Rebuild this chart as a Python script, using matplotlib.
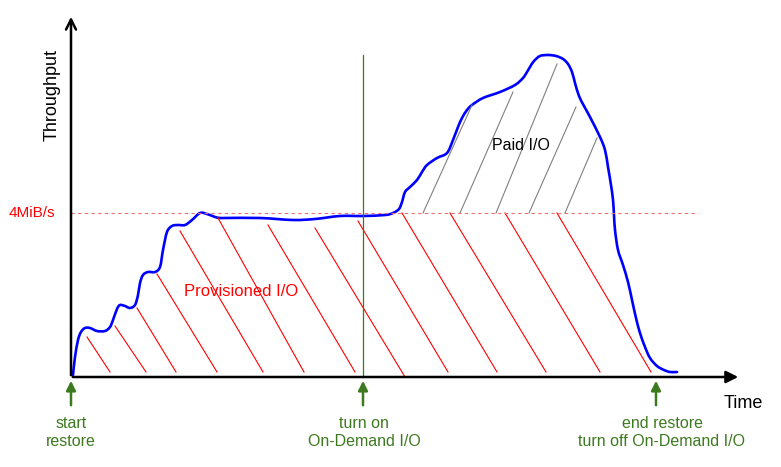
import matplotlib
matplotlib.use("Agg")
import matplotlib.pyplot as plt
from matplotlib.path import Path
from matplotlib.patches import PathPatch
import numpy as np

plt.rcParams['font.family'] = ['Liberation Sans', 'DejaVu Sans']

# throughput curve (time, throughput) in diagram units
time = [2, 4, 7, 10, 14, 19, 26, 34, 39, 42, 46, 49, 54, 59, 64, 67, 69, 72, 77, 84,
        89, 92, 96, 101, 107, 114, 121, 129, 136, 144, 149, 154, 189, 222,
        244, 269, 292, 314, 322, 328, 331, 334, 339, 346, 351, 356, 366, 376, 382, 387,
        391, 396, 401, 412, 429, 444, 452, 456, 459, 463, 469, 477, 485, 492, 497, 501,
        504, 508, 513, 519, 529, 534, 537, 540, 542, 543, 544, 547, 552, 557, 561, 565,
        569, 574, 579, 586, 593, 599, 606]
throughput = [2, 20, 37, 45, 49, 49, 46, 46, 50, 57, 68, 72, 71, 69, 72, 82, 94, 102, 105,
              105, 110, 127, 145, 151, 152, 152, 157, 164, 163, 160,
              159, 159, 159, 157, 158, 161, 161, 162, 164, 168, 175, 185, 190, 197, 205, 212,
              219, 224, 237, 250, 259, 267, 272, 279, 285, 292, 299, 305, 310, 316, 321,
              322, 321, 318, 313, 305, 294, 281, 271, 260, 240, 227, 210, 192, 177, 162,
              147, 127, 112, 95, 77, 59, 44, 30, 19, 11, 7, 5, 5]

provisioned = 164          # 4MiB/s level
on_demand_start = 292
restore_end = 585
marker_times = [0, on_demand_start, restore_end]
marker_labels = ["start\nrestore", "turn on\nOn-Demand I/O", "end restore\nturn off On-Demand I/O"]
label_offsets = [0, 1, 6]

# hatch lines: (top time, top value, bottom time)
red_hatch = [(16, 40, 39), (44, 51, 75), (66, 69, 105), (86, 103, 146), (109, 146, 192),
             (147, 159, 233), (197, 152, 284), (244, 149, 334), (287, 156, 377),
             (331, 164, 426), (379, 164, 475), (434, 164, 529), (486, 164, 580)]
# grey hatch lines: (bottom time, top time, top value)
grey_hatch = [(352, 401, 272), (389, 442, 285), (425, 486, 313), (458, 505, 270), (494, 526, 239)]

green = '#3d7a1f'

fig = plt.figure(figsize=(7.81, 4.67), dpi=100)
ax = fig.add_axes([0, 0, 1, 1])
ax.set_xlim(-71, 710)
ax.set_ylim(-90, 377)
ax.axis('off')

# hatching
for t0, v0, t1 in red_hatch:
    v1 = 0 if t1 == 334 else 5
    ax.plot([t0, t1], [v0, v1], color='red', lw=0.8)
for t0, t1, v1 in grey_hatch:
    ax.plot([t0, t1], [provisioned, v1], color='#808080', lw=0.8)

# 4MiB/s level
ax.plot([0, 627], [provisioned, provisioned], color='#f07070', lw=0.8, ls=(0, (3, 3)))

# on-demand vertical line
ax.plot([on_demand_start, on_demand_start], [0, 322], color=green, lw=0.9)

# curve, drawn as a smooth bezier path through the points
pts = np.column_stack([time, throughput]).astype(float)
verts = [pts[0]]
codes = [Path.MOVETO]
for i in range(len(pts) - 1):
    p0 = pts[max(i - 1, 0)]
    p1 = pts[i]
    p2 = pts[i + 1]
    p3 = pts[min(i + 2, len(pts) - 1)]
    verts += [p1 + (p2 - p0) / 6, p2 - (p3 - p1) / 6, p2]
    codes += [Path.CURVE4] * 3
ax.add_patch(PathPatch(Path(verts, codes), fill=False, edgecolor='blue', lw=1.9,
                       capstyle='round', joinstyle='round'))

# axes
ax.annotate('', xy=(0, 363), xytext=(0, -1),
            arrowprops=dict(arrowstyle='->', lw=1.8, color='black', mutation_scale=18))
ax.annotate('', xy=(670, 0), xytext=(-1, 0),
            arrowprops=dict(arrowstyle='-|>', lw=1.8, color='black', mutation_scale=18))

ax.text(-19, 282, 'Throughput', rotation=90, ha='center', va='center', fontsize=13)
ax.text(672, -27, 'Time', ha='center', va='center', fontsize=13)
ax.text(-16, provisioned, '4MiB/s', ha='right', va='center', fontsize=11, color='red')
ax.text(170, 85, 'Provisioned I/O', ha='center', va='center', fontsize=12, color='red')
ax.text(450, 232, 'Paid I/O', ha='center', va='center', fontsize=11.5, color='black')

# event markers
for t, lab, off in zip(marker_times, marker_labels, label_offsets):
    ax.annotate('', xy=(t, -1), xytext=(t, -31),
                arrowprops=dict(arrowstyle='-|>', lw=1.8, color=green, mutation_scale=14))
    ax.text(t + off, -55, lab, ha='center', va='center', fontsize=11.5, color=green,
            linespacing=1.25)

fig.savefig('out.png', dpi=100)
